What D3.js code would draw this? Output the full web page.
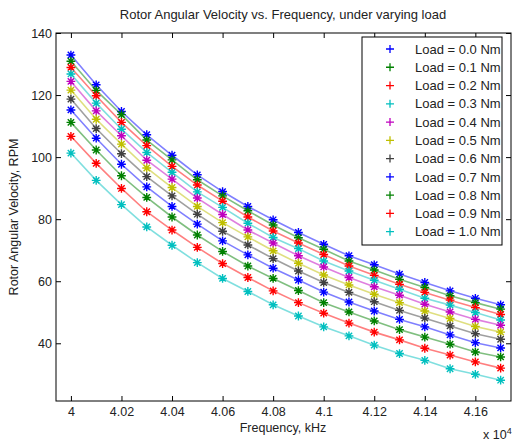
<!DOCTYPE html>
<html>
<head>
<meta charset="utf-8">
<script src="https://cdn.jsdelivr.net/npm/d3@7"></script>
<style>
  html, body { margin: 0; padding: 0; background: #fff; }
  svg { display: block; font-family: "Liberation Sans", Arial, sans-serif; }
</style>
</head>
<body>
<svg id="chart" width="513" height="441"></svg>
<script>
// Supply frequency (Hz) at each measurement
const frequencies = [40000, 40100, 40200, 40300, 40400, 40500, 40600, 40700, 40800,
                     40900, 41000, 41100, 41200, 41300, 41400, 41500, 41600, 41700];

// Load torque labels for each series
const loads = ["0.0", "0.1", "0.2", "0.3", "0.4", "0.5", "0.6", "0.7", "0.8", "0.9", "1.0"];

// Rotor angular velocity (RPM), one row per load
const load00 = [132.9, 123.3, 114.7, 107.2, 100.6, 94.3, 88.9, 84.1, 79.8, 75.7, 71.9, 68.2, 65.3, 62.3, 59.6, 56.9, 54.5, 52.4];
const load01 = [130.9, 121.5, 113.7, 105.5, 99.1, 92.7, 87.5, 82.7, 78.1, 74.0, 70.3, 66.5, 63.6, 60.6, 58.0, 55.3, 53.1, 51.0];
const load02 = [128.9, 119.8, 111.2, 103.7, 97.0, 91.0, 85.8, 80.7, 76.2, 72.3, 68.6, 64.9, 61.9, 59.0, 56.4, 53.9, 51.5, 49.3];
const load03 = [126.8, 117.4, 109.0, 101.5, 95.1, 88.8, 83.8, 78.7, 74.1, 70.5, 66.5, 63.3, 60.3, 57.4, 54.5, 52.3, 49.9, 47.5];
const load04 = [124.4, 114.9, 106.9, 99.0, 92.9, 86.8, 81.5, 76.5, 72.3, 68.2, 64.6, 61.2, 58.2, 55.5, 52.6, 50.1, 47.7, 45.8];
const load05 = [121.6, 112.2, 104.2, 96.5, 90.2, 84.1, 78.9, 74.3, 69.8, 65.8, 62.0, 58.8, 55.8, 53.1, 50.4, 48.0, 45.4, 43.6];
const load06 = [118.7, 109.2, 101.1, 93.7, 87.5, 81.6, 76.1, 71.7, 67.3, 63.3, 59.6, 56.4, 53.4, 50.6, 48.1, 45.6, 43.1, 41.3];
const load07 = [115.2, 106.1, 97.7, 90.4, 84.1, 78.4, 73.0, 68.5, 64.2, 60.4, 56.5, 53.3, 50.4, 47.7, 45.3, 42.7, 40.2, 38.5];
const load08 = [111.2, 102.3, 94.0, 87.0, 80.7, 74.9, 69.6, 64.9, 60.9, 57.0, 53.1, 50.1, 47.2, 44.4, 42.0, 39.7, 37.2, 35.6];
const load09 = [106.7, 98.0, 89.9, 82.4, 76.5, 70.9, 65.7, 61.2, 56.9, 53.1, 49.7, 46.5, 43.6, 41.1, 38.4, 36.2, 34.0, 32.0];
const load10 = [101.3, 92.5, 84.7, 77.5, 71.6, 66.0, 60.9, 56.7, 52.4, 48.8, 45.3, 42.4, 39.4, 36.7, 34.5, 31.8, 30.0, 28.1];

const speeds = [load00, load01, load02, load03, load04, load05, load06, load07, load08, load09, load10];

// Axis ticks
const xTicks = [40000, 40200, 40400, 40600, 40800, 41000, 41200, 41400, 41600];
const yTicks = [40, 60, 80, 100, 120, 140];

// MATLAB-style colour cycle
const colors = ["#0000ff", "#008000", "#ff0000", "#00bfbf", "#bf00bf", "#bfbf00", "#404040",
                "#0000ff", "#008000", "#ff0000", "#00bfbf"];

const svg = d3.select("#chart");
const plotL = 56, plotR = 511, plotT = 33, plotB = 401;

const x = d3.scaleLinear().domain([39941, 41741]).range([plotL, plotR]);
const y = d3.scaleLinear().domain([21.4, 140]).range([plotB, plotT]);

// Title
svg.append("text")
  .attr("x", 283).attr("y", 19)
  .attr("text-anchor", "middle")
  .attr("font-size", 13).attr("fill", "#222")
  .text("Rotor Angular Velocity vs. Frequency, under varying load");

// Axes with inward ticks on all four sides
const fmtX = v => String(+(v / 1e4).toFixed(2));
const axFont = g => g.attr("font-size", 12.5).attr("font-family", null);

svg.append("g").attr("transform", `translate(0,${plotB})`)
  .call(d3.axisBottom(x).tickValues(xTicks).tickFormat(fmtX).tickSize(-5).tickPadding(6))
  .call(axFont);
svg.append("g").attr("transform", `translate(0,${plotT})`)
  .call(d3.axisTop(x).tickValues(xTicks).tickFormat("").tickSize(-5));
svg.append("g").attr("transform", `translate(${plotL},0)`)
  .call(d3.axisLeft(y).tickValues(yTicks).tickSize(-5).tickPadding(4))
  .call(axFont);
svg.append("g").attr("transform", `translate(${plotR},0)`)
  .call(d3.axisRight(y).tickValues(yTicks).tickFormat("").tickSize(-5));

svg.selectAll(".domain").remove();
svg.selectAll(".tick line").attr("stroke", "#000");
svg.selectAll(".tick text").attr("fill", "#222");

svg.append("rect")
  .attr("x", plotL).attr("y", plotT)
  .attr("width", plotR - plotL).attr("height", plotB - plotT)
  .attr("fill", "none").attr("stroke", "#000").attr("stroke-width", 1);

// Axis labels
svg.append("text")
  .attr("x", 283).attr("y", 432)
  .attr("text-anchor", "middle").attr("font-size", 12.5).attr("fill", "#222")
  .text("Frequency, kHz");

svg.append("text")
  .attr("transform", `translate(18,${(plotT + plotB) / 2}) rotate(-90)`)
  .attr("text-anchor", "middle").attr("font-size", 12.5).attr("fill", "#222")
  .text("Rotor Angular Velocity, RPM");

const expo = svg.append("text")
  .attr("x", 483).attr("y", 439).attr("font-size", 12.5).attr("fill", "#222");
expo.append("tspan").text("x 10");
expo.append("tspan").attr("dy", -5).attr("font-size", 9).text("4");

// Asterisk marker (plus and cross)
const star = r => {
  const d = r * 0.72;
  return `M${-r},0H${r}M0,${-r}V${r}M${-d},${-d}L${d},${d}M${-d},${d}L${d},${-d}`;
};

const line = d3.line().x((d, i) => x(frequencies[i])).y(d => y(d));

const plot = svg.append("g");
speeds.forEach((vals, s) => {
  const g = plot.append("g");
  g.append("path")
    .attr("d", line(vals))
    .attr("fill", "none")
    .attr("stroke", colors[s])
    .attr("stroke-opacity", 0.5)
    .attr("stroke-width", 1.6);
  g.selectAll("path.mk").data(vals).join("path")
    .attr("class", "mk")
    .attr("transform", (d, i) => `translate(${x(frequencies[i])},${y(d)})`)
    .attr("d", star(4.4))
    .attr("stroke", colors[s])
    .attr("stroke-width", 1.4)
    .attr("fill", "none");
});

// Legend
const lg = svg.append("g");
lg.append("rect")
  .attr("x", 362).attr("y", 37)
  .attr("width", 140).attr("height", 208)
  .attr("fill", "#fff").attr("stroke", "#000").attr("stroke-width", 1);

loads.forEach((ld, i) => {
  const cy = 49 + i * 18.27;
  lg.append("path")
    .attr("transform", `translate(390,${cy})`)
    .attr("d", `M-4,0H4M0,-4V4`)
    .attr("stroke", colors[i]).attr("stroke-width", 1.3);
  lg.append("text")
    .attr("x", 415).attr("y", cy).attr("dy", "0.36em")
    .attr("font-size", 13).attr("fill", "#222")
    .text(`Load = ${ld} Nm`);
});
</script>
</body>
</html>
